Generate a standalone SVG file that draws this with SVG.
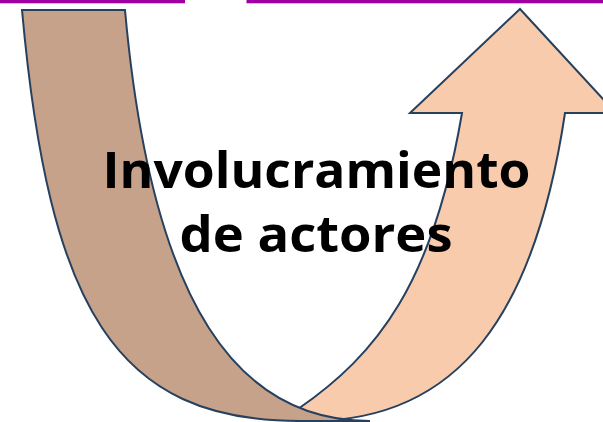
<svg xmlns="http://www.w3.org/2000/svg" width="603" height="422" viewBox="0 0 603 422">
  <style>
    .edge { stroke: #26405E; stroke-width: 2; stroke-linejoin: miter; }
    .back { fill: #C6A28A; }
    .front { fill: #F8CBAD; }
    .bar { fill: #A000A0; }
    .label { font-family: "Open Sans", "Noto Sans", "Liberation Sans", sans-serif; font-weight: 700; font-size: 51px; fill: #000000; text-anchor: middle; }
  </style>
  <rect class="bar" x="0" y="0" width="185" height="3.3"/>
  <rect class="bar" x="246.5" y="0" width="356.5" height="3.3"/>
  <g id="arrow">
    <g id="arrow-front">
      <path class="front edge" d="M298,409 C378,353.8 433.1,283 462,113 L410,113 L520,9 L616,113 L565,113 C535,313 460,421 310,421 L296,421 Z"/>
    </g>
    <g id="arrow-back">
      <path class="back edge" d="M22,10 L125,10 C152,310 240,421 370,421 L300,421 C116,421 49,310 22,10 Z"/>
    </g>
  </g>
  <g id="title">
    <text class="label" x="316.5" y="188" textLength="428" lengthAdjust="spacingAndGlyphs">Involucramiento</text>
    <text class="label" x="316" y="252" textLength="273" lengthAdjust="spacingAndGlyphs">de actores</text>
  </g>
</svg>
